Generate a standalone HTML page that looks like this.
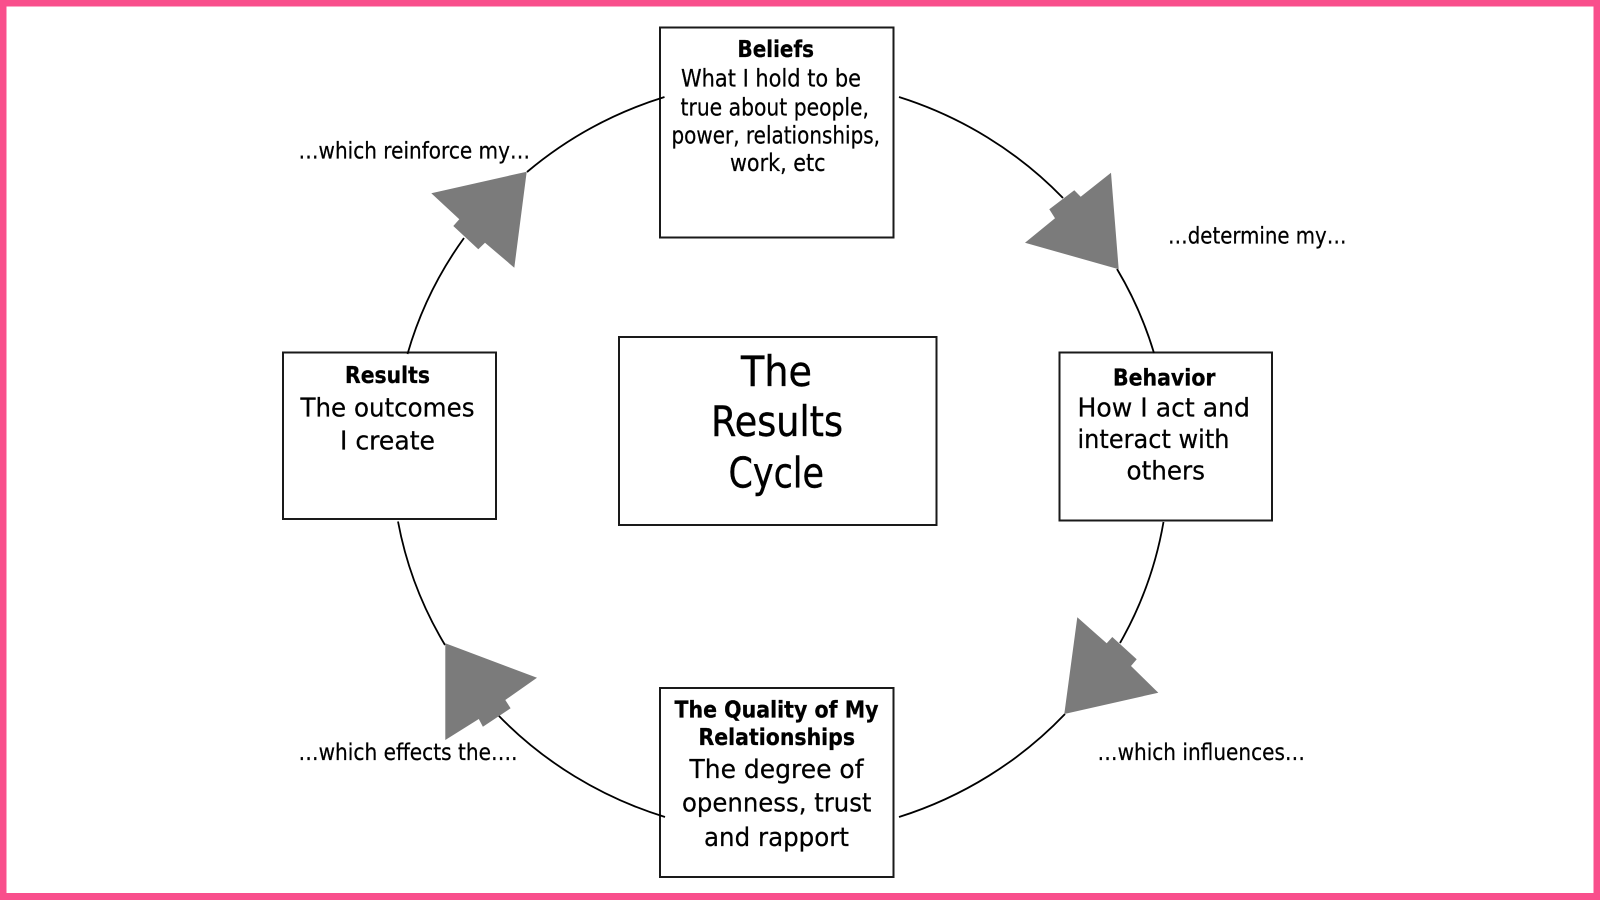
<!DOCTYPE html>
<html><head><meta charset="utf-8"><style>
html,body{margin:0;padding:0;background:#fff}
svg{display:block}
text{font-family:"DejaVu Sans","Liberation Sans",sans-serif;fill:#000;stroke:#000;stroke-width:.25;font-size:24px}
.b{font-weight:bold;font-size:23px;stroke-width:.3}
.l{font-size:25.5px}
.c{font-size:42px;stroke-width:.4}
.n{font-size:23.5px}
.box{fill:#fff;stroke:#1a1a1a;stroke-width:2}
.arc{fill:none;stroke:#000;stroke-width:1.8}
.arr{fill:#7b7b7b;stroke:none}
</style></head><body>
<svg width="1600" height="900" viewBox="0 0 1600 900" xmlns="http://www.w3.org/2000/svg">
<rect width="1600" height="900" fill="#f94f8c"/>
<rect x="6.5" y="6.5" width="1587" height="886.5" fill="#fff"/>

<rect class="box" x="660" y="27.5" width="233.5" height="210"/>
<rect class="box" x="283" y="352.5" width="213" height="166.5"/>
<rect class="box" x="1059.5" y="352.5" width="212.5" height="168"/>
<rect class="box" x="660" y="688" width="233.5" height="189"/>
<rect class="box" x="619" y="337" width="317.5" height="188"/>

<path class="arc" d="M899 97 A391 379 0 0 1 1063 198"/>
<path class="arc" d="M1117 269 A391 379 0 0 1 1154 353"/>
<path class="arc" d="M1163.5 522 A391 379 0 0 1 1120 643"/>
<path class="arc" d="M1065 714 A391 379 0 0 1 899 817"/>
<path class="arc" d="M665 817 A391 379 0 0 1 498 715"/>
<path class="arc" d="M445 645 A391 379 0 0 1 398 521.5"/>
<path class="arc" d="M407.5 354 A391 379 0 0 1 464 238"/>
<path class="arc" d="M527 172 A391 379 0 0 1 664.5 97"/>

<polygon class="arr" points="1111,172.7 1118.7,269.3 1025,242.7 1055,218.3 1049.3,209.3 1074.3,190.3 1080.7,196.7"/>
<polygon class="arr" points="526.7,171.7 514.3,267.7 485,242.7 478.3,249.3 453.3,226 459.3,219.3 431.3,193.3"/>
<polygon class="arr" points="1077.3,617.3 1106.7,643.3 1112.3,637 1136.7,659.3 1131,666 1158.3,692.7 1064.3,714"/>
<polygon class="arr" points="445.3,643.3 537,677.7 505.3,700 510.6,708.3 482.9,726.7 478.8,719 445.3,740"/>

<text class="b" x="737.5" y="56.8" textLength="76.5" lengthAdjust="spacingAndGlyphs">Beliefs</text>
<text x="681" y="86.7" textLength="180" lengthAdjust="spacingAndGlyphs">What I hold to be</text>
<text x="680.5" y="115.7" textLength="188.5" lengthAdjust="spacingAndGlyphs">true about people,</text>
<text x="671.5" y="143.3" textLength="208.5" lengthAdjust="spacingAndGlyphs">power, relationships,</text>
<text x="730" y="171" textLength="95.5" lengthAdjust="spacingAndGlyphs">work, etc</text>

<text class="b" x="345" y="383" textLength="85" lengthAdjust="spacingAndGlyphs">Results</text>
<text class="l" x="300.5" y="416.5" textLength="174" lengthAdjust="spacingAndGlyphs">The outcomes</text>
<text class="l" x="340" y="449.3" textLength="95" lengthAdjust="spacingAndGlyphs">I create</text>

<text class="b" x="1113" y="385.7" textLength="102.5" lengthAdjust="spacingAndGlyphs">Behavior</text>
<text class="l" x="1077.5" y="416.7" textLength="172.5" lengthAdjust="spacingAndGlyphs">How I act and</text>
<text class="l" x="1077.5" y="448" textLength="152" lengthAdjust="spacingAndGlyphs">interact with</text>
<text class="l" x="1126.5" y="479.3" textLength="78.5" lengthAdjust="spacingAndGlyphs">others</text>

<text class="b" x="674.5" y="717.3" textLength="204" lengthAdjust="spacingAndGlyphs">The Quality of My</text>
<text class="b" x="698.5" y="745" textLength="156.5" lengthAdjust="spacingAndGlyphs">Relationships</text>
<text class="l" x="689.5" y="778" textLength="174" lengthAdjust="spacingAndGlyphs">The degree of</text>
<text class="l" x="682" y="811.7" textLength="189.5" lengthAdjust="spacingAndGlyphs">openness, trust</text>
<text class="l" x="704" y="846" textLength="145" lengthAdjust="spacingAndGlyphs">and rapport</text>

<text class="c" x="741" y="386" textLength="71" lengthAdjust="spacingAndGlyphs">The</text>
<text class="c" x="711" y="436" textLength="132" lengthAdjust="spacingAndGlyphs">Results</text>
<text class="c" x="728.5" y="487.5" textLength="95.5" lengthAdjust="spacingAndGlyphs">Cycle</text>

<text class="n" x="298.5" y="158.5" textLength="231.5" lengthAdjust="spacingAndGlyphs">…which reinforce my…</text>
<text class="n" x="1168" y="243.3" textLength="178.5" lengthAdjust="spacingAndGlyphs">…determine my…</text>
<text class="n" x="1097.5" y="760.2" textLength="207.5" lengthAdjust="spacingAndGlyphs">…which influences…</text>
<text class="n" x="298.5" y="760" textLength="219" lengthAdjust="spacingAndGlyphs">…which effects the….</text>
</svg>
</body></html>
